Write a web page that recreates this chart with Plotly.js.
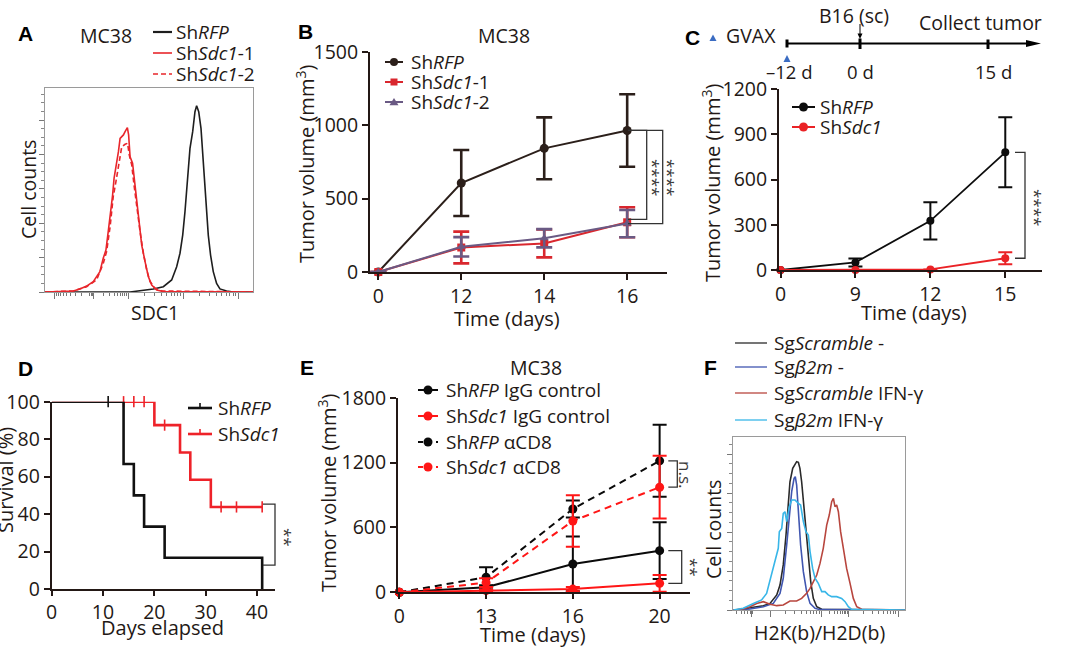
<!DOCTYPE html>
<html><head><meta charset="utf-8">
<script src="https://cdn.plot.ly/plotly-3.0.1.min.js"></script>
<style>html,body{margin:0;padding:0;background:#fff;}#chart{width:1080px;height:650px;}</style>
</head><body><div id="chart"></div>
<script>
// ===== Panel A: SDC1 flow histogram (MC38) =====
const aNames = ['Sh<i>RFP</i>', 'Sh<i>Sdc1</i>-1', 'Sh<i>Sdc1</i>-2'];
const aRFP_x = [0,40.9,52.1,56.9,60.9,63.3,64.9,66.2,67.3,68.1,68.9,69.7,71.0,72.1,72.9,73.9,75.0,76.1,76.9,77.7,78.5,79.6,80.9,82.5,84.1,87.3,90.5,100];
const aRFP_y = [0,0,1.5,2.6,5.9,12.4,19.0,27.9,39.4,50.8,60.6,70.4,78.6,88.4,91.3,88.4,80.2,63.9,52.5,39.4,27.9,18.1,10.0,4.2,1.5,0.5,0,0];
const aSdc1a_x = [0,13.6,16.8,20.0,23.2,26.4,28.0,29.3,30.4,31.6,32.5,33.2,34.1,35.3,36.1,37.7,38.5,39.6,40.2,40.9,42.1,43.1,44.1,45.2,46.5,48.1,49.7,51.3,53.7,56.9,100];
const aSdc1a_y = [0,0.5,1.5,2.9,5.1,10.0,16.5,20.6,29.6,39.4,47.5,55.7,60.6,68.8,75.3,77.0,78.6,80.6,77.0,66.3,63.1,54.1,42.6,32.8,23.0,14.9,7.5,3.4,1.0,0.2,0];
const aSdc1b_x = [0,13.6,20.0,24.8,28.0,29.6,31.3,32.8,34.1,35.4,36.9,38.5,39.7,40.5,41.7,42.8,44.1,45.7,47.3,48.9,50.5,52.9,56.1,100];
const aSdc1b_y = [0,0.5,2.6,5.9,14.0,19.8,32.0,46.7,54.1,62.3,71.2,72.4,72.9,67.2,62.3,52.5,41.0,29.6,19.0,10.8,5.1,1.8,0.5,0];

// ===== Panel B: MC38 tumor growth =====
const bDays = ['0','12','14','16'];
const bNames = ['Sh<i>RFP</i>', 'Sh<i>Sdc1</i>-1', 'Sh<i>Sdc1</i>-2'];
const bRFP = [0,607,843,965];      const bRFPerr = [0,225,211,247];
const bSdc1a = [0,167,195,339];    const bSdc1aErr = [0,108,95,102];
const bSdc1b = [0,172,230,330];    const bSdc1bErr = [0,66,62,93];

// ===== Panel C: B16 + GVAX tumor growth =====
const cDays = ['0','9','12','15'];
const cNames = ['Sh<i>RFP</i>', 'Sh<i>Sdc1</i>'];
const cRFP = [0,50,326,780];       const cRFPerr = [0,27,123,232];
const cSdc1 = [0,0,4,78];          const cSdc1Err = [0,0,0,40];

// ===== Panel D: survival =====
const dNames = ['Sh<i>RFP</i>', 'Sh<i>Sdc1</i>'];
const dRFP_t = [0,14,16,18,22,41];         const dRFP_s = [100,66.7,50,33.3,16.7,0];
const dRFPcens_t = [11];                   const dRFPcens_s = [100];
const dSdc1_t = [0,20,25,27,31,41];        const dSdc1_s = [100,87.5,72.9,58.3,43.8,43.8];
const dSdc1cens_t = [14,16,18,22,33,36,41]; const dSdc1cens_s = [100,100,100,87.5,43.8,43.8,43.8];

// ===== Panel E: MC38 with CD8 depletion =====
const eDays = ['0','13','16','20'];
const eNames = ['Sh<i>RFP</i> IgG control','Sh<i>Sdc1</i> IgG control','Sh<i>RFP</i> αCD8','Sh<i>Sdc1</i> αCD8'];
const eRFPigg = [0,46,262,385];    const eRFPiggErr = [0,20,253,263];
const eSdc1igg = [0,15,30,83];     const eSdc1iggErr = [0,10,20,77];
const eRFPcd8 = [0,139,771,1216];  const eRFPcd8Err = [0,92,78,333];
const eSdc1cd8 = [0,89,660,972];   const eSdc1cd8Err = [0,40,238,290];

// ===== Panel F: H2K(b)/H2D(b) flow histogram =====
const fNames = ['Sg<i>Scramble</i> -','Sg<i>β2m</i> -','Sg<i>Scramble</i> IFN-γ','Sg<i>β2m</i> IFN-γ'];
const fScr_x = [0,5.8,9.7,13.6,17.5,21.4,25.3,27.2,29.1,30.7,32.1,33.0,34.6,35.9,36.9,37.9,38.8,39.8,41.2,42.3,43.7,45.1,46.6,48.6,51.5,100];
const fScr_y = [0,0.4,1.3,1.9,2.5,3.8,8.7,14.4,26.0,43.3,62.5,74.0,81.7,84.1,85.6,85.2,81.7,74.0,58.7,43.3,27.9,16.3,6.7,1.9,0.4,0];
const fB2m_x = [0,9.7,17.5,23.3,27.2,29.1,31.1,32.6,34.0,35.4,36.1,36.9,37.9,39.2,40.8,42.7,44.7,47.6,50.5,100];
const fB2m_y = [0,0.6,1.9,3.8,9.6,18.3,37.5,54.8,68.3,76.0,76.9,72.1,56.7,37.5,22.1,10.6,3.8,1.0,0.2,0];
const fScrIFN_x = [0,5.8,9.7,13.6,17.5,21.4,25.3,29.1,33.0,36.9,39.8,42.7,44.7,46.6,48.6,50.5,52.4,54.4,55.9,57.3,58.3,59.2,60.2,61.2,62.5,64.1,66.0,68.0,69.9,71.9,74.8,100];
const fScrIFN_y = [0,0.6,1.9,3.8,4.8,3.3,2.5,2.9,5.2,5.2,6.7,9.6,12.5,16.3,20.2,26.9,35.6,49.0,54.8,62.5,64.4,59.6,60.6,56.7,45.2,35.6,24.0,15.4,6.7,1.9,0.4,0];
const fB2mIFN_x = [0,5.8,11.7,16.5,19.4,22.3,24.3,26.2,26.8,28.2,29.1,30.1,31.1,32.6,34.0,35.9,37.9,39.2,40.8,42.3,43.7,44.7,46.2,47.6,49.5,51.5,53.4,55.3,57.3,60.2,63.1,65.1,67.0,68.9,100];
const fB2mIFN_y = [0,1.0,3.8,5.8,9.6,20.2,28.8,35.6,45.2,47.1,55.8,56.7,51.0,59.6,63.5,63.5,61.5,60.6,51.0,45.2,43.3,33.7,24.0,18.3,15.4,10.6,10.6,8.7,7.7,7.7,6.7,4.8,1.9,0.4,0];

// ---------------- helpers ----------------
const W = 1080, H = 650;
const FONT = '"Open Sans", "Noto Sans", sans-serif';
const INK = '#231815';
const PX = x => x / W;
const PY = y => 1 - y / H;
const dX = (a, b) => [a / W, b / W];
const dY = (top, bottom) => [1 - bottom / H, 1 - top / H];
function logMinors(a, b) { const r = []; for (let k = 2; k <= 9; k++) r.push(a + (b - a) * Math.log10(k)); return r; }
function logMinorsRev(a, b) { const r = []; for (let k = 2; k <= 9; k++) r.push(b - (b - a) * Math.log10(k)); return r; }

function lineAxis(extra) {
  return Object.assign({showline:true, linewidth:2, linecolor:INK, ticks:'outside', ticklen:6, tickwidth:2,
    tickcolor:INK, showgrid:false, zeroline:false, fixedrange:true,
    tickfont:{size:19.5, color:INK, family:FONT}}, extra);
}
function flowAxis(extra) {
  return Object.assign({showline:true, mirror:true, linewidth:1, linecolor:'#9a9a9a', ticks:'outside', ticklen:5,
    tickwidth:1, tickcolor:'#777', showticklabels:false, showgrid:false, zeroline:false, fixedrange:true}, extra);
}

// tick positions of the log-like flow axes
const aMaj = [4.8, 23.2, 40, 66.5, 93];
const aMin = [].concat(logMinorsRev(4.8, 23.2), logMinors(23.2, 40), logMinors(40, 66.5), logMinors(66.5, 93), [21.6, 22.2, 22.8]);
const fMaj = [10.7, 21.4, 51.5, 67, 96];
const fMin = [].concat([2, 4.5, 6.5, 8.5, 10.0, 11.4], logMinors(21.4, 51.5), logMinors(51.5, 67), logMinors(67, 96));

const traces = [];
// Panel A
traces.push({x:aRFP_x, y:aRFP_y, xaxis:'x', yaxis:'y', mode:'lines', name:aNames[0], line:{color:'#1e1e1e', width:1.6}});
traces.push({x:aSdc1b_x, y:aSdc1b_y, xaxis:'x', yaxis:'y', mode:'lines', name:aNames[2], line:{color:'#e8262b', width:1.6, dash:'5px,3px'}});
traces.push({x:aSdc1a_x, y:aSdc1a_y, xaxis:'x', yaxis:'y', mode:'lines', name:aNames[1], line:{color:'#e8262b', width:1.6}});

// Panel B
const bCol = ['#2b1f1a', '#d9272e', '#6a5a84'];
const bSym = ['circle', 'square', 'triangle-up'];
[[bRFP,bRFPerr],[bSdc1a,bSdc1aErr],[bSdc1b,bSdc1bErr]].forEach((s, i) => {
  traces.push({x:bDays, y:s[0], xaxis:'x2', yaxis:'y2', mode:'lines+markers', name:bNames[i], cliponaxis:false,
    line:{color:bCol[i], width:2}, marker:{symbol:bSym[i], size:i===0?9:8, color:bCol[i]},
    error_y:{type:'data', array:s[1], visible:true, color:bCol[i], thickness:2.6, width:8}});
});

// Panel C
const cCol = ['#0d0d0d', '#ea2226'];
[[cRFP,cRFPerr],[cSdc1,cSdc1Err]].forEach((s, i) => {
  traces.push({x:cDays, y:s[0], xaxis:'x3', yaxis:'y3', mode:'lines+markers', name:cNames[i], cliponaxis:false,
    line:{color:cCol[i], width:1.8}, marker:{symbol:'circle', size:8, color:cCol[i]},
    error_y:{type:'data', array:s[1], visible:true, color:cCol[i], thickness:2, width:7}});
});

// Panel D (Kaplan-Meier)
const dCol = ['#111111', '#ee2229'];
traces.push({x:dSdc1_t, y:dSdc1_s, xaxis:'x4', yaxis:'y4', mode:'lines', name:dNames[1], line:{color:dCol[1], width:2.6, shape:'hv'}, cliponaxis:false});
traces.push({x:dSdc1cens_t, y:dSdc1cens_s, xaxis:'x4', yaxis:'y4', mode:'markers', name:dNames[1], cliponaxis:false,
  marker:{symbol:'line-ns', size:8, color:dCol[1], line:{color:dCol[1], width:1.6}}});
traces.push({x:dRFP_t, y:dRFP_s, xaxis:'x4', yaxis:'y4', mode:'lines', name:dNames[0], line:{color:dCol[0], width:2.6, shape:'hv'}, cliponaxis:false});
traces.push({x:dRFPcens_t, y:dRFPcens_s, xaxis:'x4', yaxis:'y4', mode:'markers', name:dNames[0], cliponaxis:false,
  marker:{symbol:'line-ns', size:8, color:dCol[0], line:{color:dCol[0], width:1.6}}});

// Panel E
const eSpec = [
  {y:eRFPigg, e:eRFPiggErr, c:'#0a0a0a', dash:'solid', n:eNames[0]},
  {y:eRFPcd8, e:eRFPcd8Err, c:'#0a0a0a', dash:'7px,5px', n:eNames[2]},
  {y:eSdc1cd8, e:eSdc1cd8Err, c:'#ff1616', dash:'7px,5px', n:eNames[3]},
  {y:eSdc1igg, e:eSdc1iggErr, c:'#ff1616', dash:'solid', n:eNames[1]}
];
eSpec.forEach(s => {
  traces.push({x:eDays, y:s.y, xaxis:'x5', yaxis:'y5', mode:'lines+markers', name:s.n, cliponaxis:false,
    line:{color:s.c, width:2, dash:s.dash}, marker:{symbol:'circle', size:9, color:s.c},
    error_y:{type:'data', array:s.e, visible:true, color:s.c, thickness:2, width:7}});
});

// Panel F
const fCol = ['#2a2a2a', '#4056b0', '#b8463e', '#38b6e8'];
[[fScr_x,fScr_y],[fB2m_x,fB2m_y],[fScrIFN_x,fScrIFN_y],[fB2mIFN_x,fB2mIFN_y]].forEach((s, i) => {
  traces.push({x:s[0], y:s[1], xaxis:'x6', yaxis:'y6', mode:'lines', name:fNames[i], line:{color:fCol[i], width:1.6}});
});

// ---------------- annotations & shapes ----------------
const ann = [];
const shp = [];
function txt(t, x, y, o) {
  ann.push(Object.assign({text:t, x:PX(x), y:PY(y), xref:'paper', yref:'paper', showarrow:false,
    xanchor:'center', yanchor:'middle', font:{family:FONT, size:19.5, color:INK}}, o || {}));
}
function label(t, x, y) { txt('<b>' + t + '</b>', x, y, {font:{family:'"Liberation Sans", Arial, sans-serif', size:21, color:'#000'}}); }
function pline(x0, y0, x1, y1, color, width, dash) {
  shp.push({type:'line', xref:'paper', yref:'paper', x0:PX(x0), y0:PY(y0), x1:PX(x1), y1:PY(y1),
    line:{color:color, width:width, dash:dash || 'solid'}});
}
function pathPx(pts, fill) {
  const d = pts.map((p, i) => (i ? 'L' : 'M') + PX(p[0]).toFixed(5) + ',' + PY(p[1]).toFixed(5)).join(' ') + ' Z';
  shp.push({type:'path', xref:'paper', yref:'paper', path:d, fillcolor:fill, line:{width:0}});
}
function symbolPx(sym, cx, cy, r, color) {
  if (sym === 'circle') shp.push({type:'circle', xref:'paper', yref:'paper', x0:PX(cx - r), x1:PX(cx + r), y0:PY(cy + r), y1:PY(cy - r), fillcolor:color, line:{width:0}});
  else if (sym === 'square') shp.push({type:'rect', xref:'paper', yref:'paper', x0:PX(cx - r), x1:PX(cx + r), y0:PY(cy + r), y1:PY(cy - r), fillcolor:color, line:{width:0}});
  else if (sym === 'triangle') pathPx([[cx - r - 0.5, cy + r * 0.8], [cx, cy - r], [cx + r + 0.5, cy + r * 0.8]], color);
  else if (sym === 'tick') pline(cx, cy - 5, cx, cy, color, 1.6);
}
function legend(items, x0, x1, tx, ys, size) {
  items.forEach((it, i) => {
    pline(x0, ys[i], x1, ys[i], it.c, it.w, it.dash);
    if (it.sym) symbolPx(it.sym, (x0 + x1) / 2, ys[i], it.r || 4, it.c);
    txt(it.n, tx, ys[i], {xanchor:'left', font:{family:FONT, size:size || 19, color:INK}});
  });
}
// bracket in paper-x / data-y
function bracket(yref, xArm, xBar, yTop, yBot) {
  shp.push({type:'path', xref:'paper', yref:yref,
    path:'M' + PX(xArm) + ',' + yTop + ' L' + PX(xBar) + ',' + yTop + ' L' + PX(xBar) + ',' + yBot + ' L' + PX(xArm) + ',' + yBot,
    line:{color:'#333', width:1.3}});
}
const star = (t, x, y) => txt(t, x, y, {textangle:90, font:{family:FONT, size:17, color:'#3a3a3a'}});

// Panel A text
label('A', 25, 34);
txt('MC38', 106, 36);
legend([{n:aNames[0], c:'#1e1e1e', w:2.2}, {n:aNames[1], c:'#e8262b', w:1.6}, {n:aNames[2], c:'#e8262b', w:1.6, dash:'5px,3px'}],
  153, 172, 174, [32, 53, 74]);
txt('Cell counts', 28, 190, {textangle:-90});
txt('SDC1', 155, 312);

// Panel B text
label('B', 305, 31);
txt('MC38', 504, 35);
legend([{n:bNames[0], c:bCol[0], w:2, sym:'circle', r:4}, {n:bNames[1], c:bCol[1], w:2, sym:'square', r:3.5}, {n:bNames[2], c:bCol[2], w:2, sym:'triangle', r:4}],
  385, 403, 409, [62, 82, 102]);
txt('Tumor volume (mm<sup>3</sup>)', 305, 164, {textangle:-90, font:{family:FONT, size:20, color:INK}});
txt('Time (days)', 507, 318, {font:{family:FONT, size:20, color:INK}});
bracket('y2', 628, 646.7, bRFP[3], bSdc1a[3] + 20);
bracket('y2', 628, 662.7, bRFP[3], bSdc1b[3]);
star('****', 654, 177);
star('****', 669, 177);

// Panel C text + timeline
label('C', 692, 38);
pathPx([[709.5, 41], [713, 34.5], [716.5, 41]], '#3b6cc2');
txt('GVAX', 751, 35);
pline(787, 43.5, 1028, 43.5, '#000', 2);
pathPx([[1026, 40], [1041, 43.5], [1026, 47]], '#000');
pline(787, 39.5, 787, 47.5, '#000', 3);
pline(860, 38.5, 860, 49, '#000', 3);
pline(988, 39.5, 988, 49, '#000', 3);
pathPx([[783.5, 62], [787, 55], [790.5, 62]], '#3b6cc2');
txt('B16 (sc)', 854, 15);
pline(860, 24, 860, 35, '#000', 1);
pathPx([[857.5, 33.5], [860, 39], [862.5, 33.5]], '#000');
txt('Collect tumor', 980, 23);
txt('–12 d', 789, 72, {font:{family:FONT, size:18.5, color:INK}});
txt('0 d', 860, 72, {font:{family:FONT, size:18.5, color:INK}});
txt('15 d', 993, 72, {font:{family:FONT, size:18.5, color:INK}});
legend([{n:cNames[0], c:cCol[0], w:2, sym:'circle', r:4.5}, {n:cNames[1], c:cCol[1], w:2, sym:'circle', r:4.5}],
  792, 815, 818, [107, 127]);
txt('Tumor volume (mm<sup>3</sup>)', 712, 183, {textangle:-90, font:{family:FONT, size:20, color:INK}});
txt('Time (days)', 914, 313, {font:{family:FONT, size:20, color:INK}});
bracket('y3', 1015, 1025, cRFP[3], cSdc1[3]);
star('****', 1036, 207);

// Panel D text
label('D', 25, 368);
legend([{n:dNames[0], c:dCol[0], w:2.6, sym:'tick'}, {n:dNames[1], c:dCol[1], w:2.6, sym:'tick'}],
  188, 212, 216, [408, 434]);
txt('Survival (%)', 5, 480, {textangle:-90, font:{family:FONT, size:20, color:INK}});
txt('Days elapsed', 162, 627, {font:{family:FONT, size:20, color:INK}});
bracket('y4', 263, 275, dSdc1_s[5] + 1.5, dRFP_s[4] - 4);
star('**', 286, 537);

// Panel E text
label('E', 307, 367);
txt('MC38', 536, 367);
legend([{n:eNames[0], c:'#0a0a0a', w:2, sym:'circle', r:4.5}, {n:eNames[1], c:'#ff1616', w:2, sym:'circle', r:4.5},
        {n:eNames[2], c:'#0a0a0a', w:2, dash:'5px,4px', sym:'circle', r:4.5}, {n:eNames[3], c:'#ff1616', w:2, dash:'5px,4px', sym:'circle', r:4.5}],
  418, 438, 444, [390, 416, 442, 467]);
txt('Tumor volume (mm<sup>3</sup>)', 328, 493, {textangle:-90, font:{family:FONT, size:20, color:INK}});
txt('Time (days)', 533, 634, {font:{family:FONT, size:20, color:INK}});
bracket('y5', 668.3, 677.3, eRFPcd8[3], eSdc1cd8[3]);
bracket('y5', 668.3, 681.7, eRFPigg[3], eSdc1igg[3]);
star('n.s.', 686, 474);
star('**', 692, 567);

// Panel F text
label('F', 710, 367);
legend([{n:fNames[0], c:fCol[0], w:1.3}, {n:fNames[1], c:fCol[1], w:1.3}, {n:fNames[2], c:fCol[2], w:1.3}, {n:fNames[3], c:fCol[3], w:1.3}],
  735, 767, 772, [343, 367, 393, 420]);
txt('Cell counts', 713, 530, {textangle:-90});
txt('H2K(b)/H2D(b)', 819, 632);

// ---------------- layout ----------------
const layout = {
  width: W, height: H, margin:{l:0, r:0, t:0, b:0}, paper_bgcolor:'#fff', plot_bgcolor:'rgba(0,0,0,0)',
  showlegend:false, font:{family:FONT, color:INK},
  xaxis: flowAxis({domain:dX(45, 253), range:[0, 100], anchor:'y', tickmode:'array', tickvals:aMaj, ticklen:6,
    minor:{tickmode:'array', tickvals:aMin, ticks:'outside', ticklen:3, tickcolor:'#777'}}),
  yaxis: flowAxis({domain:dY(88, 292), range:[0, 100], anchor:'x', tick0:0, dtick:16.86,
    minor:{dtick:4.215, ticks:'outside', ticklen:3, tickcolor:'#888'}}),
  xaxis2: lineAxis({domain:dX(370, 667), type:'category', range:[-0.1, 3.48], anchor:'y2'}),
  yaxis2: lineAxis({domain:dY(52, 272), range:[0, 1500], tickvals:[0, 500, 1000, 1500], anchor:'x2'}),
  xaxis3: lineAxis({domain:dX(779, 1042), type:'category', range:[-0.02, 3.49], anchor:'y3'}),
  yaxis3: lineAxis({domain:dY(89, 270), range:[0, 1200], tickvals:[0, 300, 600, 900, 1200], anchor:'x3'}),
  xaxis4: lineAxis({domain:dX(51.7, 275), range:[0, 43.5], tickvals:[0, 10, 20, 30, 40], anchor:'y4', ticklen:5}),
  yaxis4: lineAxis({domain:dY(401.7, 589), range:[0, 100], tickvals:[0, 20, 40, 60, 80, 100], anchor:'x4'}),
  xaxis5: lineAxis({domain:dX(398, 690), type:'category', range:[-0.015, 3.35], anchor:'y5', ticklen:5}),
  yaxis5: lineAxis({domain:dY(397.7, 592.3), range:[0, 1800], tickvals:[0, 600, 1200, 1800], anchor:'x5'}),
  xaxis6: flowAxis({domain:dX(733.3, 905), range:[0, 100], anchor:'y6', tickmode:'array', tickvals:fMaj, ticklen:6,
    minor:{tickmode:'array', tickvals:fMin, ticks:'outside', ticklen:3, tickcolor:'#777'}}),
  yaxis6: flowAxis({domain:dY(436.7, 610), range:[0, 100], anchor:'x6', tick0:0, dtick:22.5,
    minor:{dtick:5.625, ticks:'outside', ticklen:3, tickcolor:'#888'}}),
  shapes: shp,
  annotations: ann
};

Plotly.newPlot('chart', traces, layout, {displayModeBar:false, staticPlot:true});
</script>
</body></html>
